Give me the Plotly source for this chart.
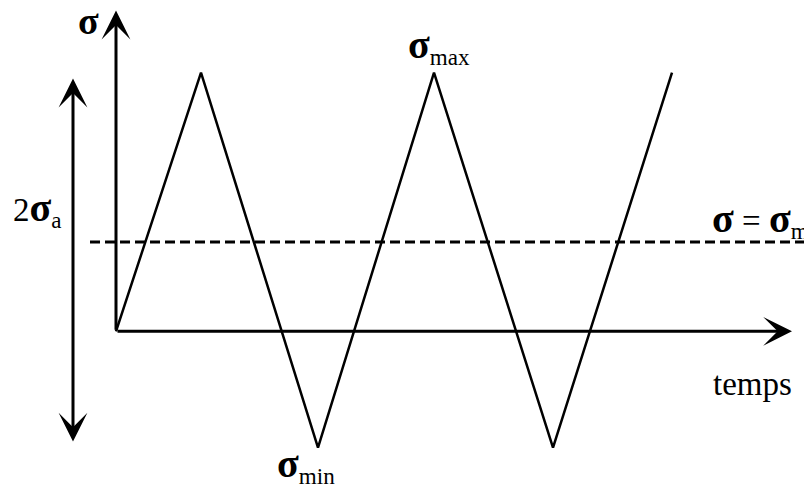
import plotly.graph_objects as go

# ---- data ----
time = [0, 0.85, 2.02, 3.18, 4.37, 5.56]          # time of origin, peaks and troughs
stress = [0, 1.0, -0.45, 1.0, -0.45, 1.0]          # normalised stress (sigma_max = 1)
sigma_m = 0.345                                   # level of the dashed mean line
dash_t = [-0.26, 6.96]                            # extent of dashed line
axis_t_end = 6.76                                 # time axis arrow tip
axis_s_end = 1.24                                 # stress axis arrow tip
amp_t = -0.43                                     # position of 2*sigma_a arrow
amp_s = [-0.432, 0.977]                           # ends of 2*sigma_a arrow

# page body has an 8px margin: the figure is drawn 8px right/down
OFF = 8
W, H = 812 - OFF, 488 - OFF
x_range = [-1.08, 6.96]
y_range = [-0.606, 1.25]

fig = go.Figure()
fig.add_trace(go.Scatter(x=time, y=stress, mode="lines",
                         line=dict(color="black", width=2.5), showlegend=False,
                         hoverinfo="skip"))
fig.add_trace(go.Scatter(x=dash_t, y=[sigma_m, sigma_m], mode="lines",
                         line=dict(color="black", width=3, dash="10px,5px"),
                         showlegend=False, hoverinfo="skip"))

arrow_style = dict(showarrow=True, arrowhead=3, arrowsize=1.6, arrowwidth=3,
                   arrowcolor="black", axref="x", ayref="y", xref="x", yref="y",
                   text="", standoff=0, startstandoff=0)
# stress axis
fig.add_annotation(x=0, y=axis_s_end, ax=0, ay=0, **arrow_style)
# time axis
fig.add_annotation(x=axis_t_end, y=0, ax=0, ay=0, **arrow_style)
# 2 sigma_a double arrow
fig.add_annotation(x=amp_t, y=amp_s[1], ax=amp_t, ay=amp_s[0],
                   arrowside="end+start", startarrowhead=3, startarrowsize=1.6,
                   **arrow_style)

font = dict(family="Liberation Serif, Times New Roman, serif", size=33, color="black")

def label(text, px, py, xa="left", ya="middle", size=33):
    fig.add_annotation(text=text, x=(px - OFF) / W, y=1 - (py - OFF) / H,
                       xref="paper", yref="paper",
                       xanchor=xa, yanchor=ya, showarrow=False,
                       font=dict(font, size=size))

S = '<span style="font-size:40px"><b>σ</b></span>'
label('<span style="font-size:38px"><b>σ</b></span>', 88, 21, xa="center", size=30)
label(S + "<sub>max</sub>", 406, 46)
label("2" + S + "<sub>a</sub>", 11, 209)
label(S + " = " + S + "<sub>m</sub>", 710, 220)
label("temps", 752, 384, xa="center", size=33)
label(S + "<sub>min</sub>", 275, 465)

fig.update_layout(width=W, height=H, margin=dict(l=0, r=0, t=0, b=0),
                  paper_bgcolor="white", plot_bgcolor="white",
                  xaxis=dict(range=x_range, visible=False, fixedrange=True),
                  yaxis=dict(range=y_range, visible=False, fixedrange=True))

fig.write_html("out.html")
